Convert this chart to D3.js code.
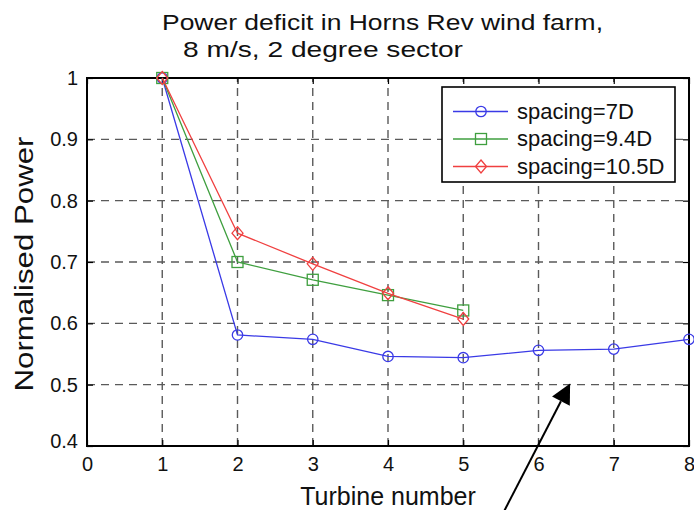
<!DOCTYPE html>
<html>
<head>
<meta charset="utf-8">
<script src="https://cdn.jsdelivr.net/npm/d3@7"></script>
<style>
  body { margin: 0; background: #fff; }
  svg { display: block; font-family: "Liberation Sans", Arial, sans-serif; }
</style>
</head>
<body>
<div id="chart"></div>
<script>
// data
var turbines = [1, 2, 3, 4, 5, 6, 7, 8];
var spacing7D = [1.0, 0.581, 0.574, 0.546, 0.544, 0.556, 0.558, 0.574];
var spacing94D = [1.0, 0.700, 0.671, 0.646, 0.621];
var spacing105D = [1.0, 0.747, 0.697, 0.649, 0.607];
var seriesNames = ["spacing=7D", "spacing=9.4D", "spacing=10.5D"];
var xTicks = [0, 1, 2, 3, 4, 5, 6, 7, 8];
var yTicks = [0.4, 0.5, 0.6, 0.7, 0.8, 0.9, 1];
// arrow annotation in data units: [turbine, power]
var arrowTail = [5.54, 0.293];
var arrowTip = [6.42, 0.502];

var width = 694, height = 510;
var margin = {top: 78, right: 5, bottom: 64, left: 87};

var svg = d3.select('#chart')
  .append('svg')
    .attr('width', width)
    .attr('height', height);

var x = d3.scaleLinear()
  .domain([0, 8])
  .range([margin.left, width - margin.right]);

var y = d3.scaleLinear()
  .domain([0.4, 1])
  .range([height - margin.bottom, margin.top]);

var series = [
  {name: seriesNames[0], values: spacing7D, color: '#3a3ae6', symbol: 'circle'},
  {name: seriesNames[1], values: spacing94D, color: '#3f9f3f', symbol: 'square'},
  {name: seriesNames[2], values: spacing105D, color: '#f04040', symbol: 'diamond'}
];

// Grid
var grid = svg.append('g').attr('class', 'grid');
grid.selectAll('.vgrid')
  .data(xTicks.slice(1, -1))
  .enter().append('line')
    .attr('x1', function(d) { return x(d); })
    .attr('x2', function(d) { return x(d); })
    .attr('y1', y(0.4))
    .attr('y2', y(1));
grid.selectAll('.hgrid')
  .data(yTicks.slice(1, -1))
  .enter().append('line')
    .attr('x1', x(0))
    .attr('x2', x(8))
    .attr('y1', function(d) { return y(d); })
    .attr('y2', function(d) { return y(d); });
grid.selectAll('line')
  .attr('stroke', '#5a5a5a')
  .attr('stroke-width', 1.4)
  .attr('stroke-dasharray', '8,6');

// Axes (ticks point inward, like matlab)
var xAxis = svg.append('g')
  .attr('transform', `translate(0,${y(0.4)})`)
  .call(d3.axisBottom(x).tickValues(xTicks).tickFormat(d3.format('d'))
    .tickSizeInner(-6).tickSizeOuter(0).tickPadding(11));
var xAxisTop = svg.append('g')
  .attr('transform', `translate(0,${y(1)})`)
  .call(d3.axisTop(x).tickValues(xTicks).tickFormat('')
    .tickSizeInner(-6).tickSizeOuter(0));
var yAxis = svg.append('g')
  .attr('transform', `translate(${x(0)},0)`)
  .call(d3.axisLeft(y).tickValues(yTicks).tickFormat(function(d) { return d == 1 ? '1' : d3.format('.1f')(d); })
    .tickSizeInner(-6).tickSizeOuter(0).tickPadding(9));
var yAxisRight = svg.append('g')
  .attr('transform', `translate(${x(8)},0)`)
  .call(d3.axisRight(y).tickValues(yTicks).tickFormat('')
    .tickSizeInner(-6).tickSizeOuter(0));

[xAxis, xAxisTop, yAxis, yAxisRight].forEach(function(a) {
  a.select('.domain').remove();
  a.selectAll('.tick line').attr('stroke', '#000').attr('stroke-width', 1.2);
  a.selectAll('.tick text').attr('fill', '#111').style('font-size', '20px')
    .style('font-family', '"Liberation Sans", Arial, sans-serif');
});
// nudge the 0.4 label up a bit
yAxis.selectAll('.tick text').filter(function(d) { return d == 0.4; }).attr('dy', '0.05em');

// Frame
svg.append('rect')
  .attr('x', x(0))
  .attr('y', y(1))
  .attr('width', x(8) - x(0))
  .attr('height', y(0.4) - y(1))
  .attr('fill', 'none')
  .attr('stroke', '#000')
  .attr('stroke-width', 2);

// Lines and markers
var line = d3.line()
  .x(function(d, i) { return x(turbines[i]); })
  .y(function(d) { return y(d); });

function drawMarker(g, symbol, cx, cy, color) {
  if (symbol == 'circle') {
    g.append('circle').attr('cx', cx).attr('cy', cy).attr('r', 5.2);
  } else if (symbol == 'square') {
    g.append('rect').attr('x', cx - 5.5).attr('y', cy - 5.5).attr('width', 11).attr('height', 11);
  } else {
    g.append('path').attr('d', `M${cx},${cy - 6.5}L${cx + 5.5},${cy}L${cx},${cy + 6.5}L${cx - 5.5},${cy}Z`);
  }
  g.selectAll('*').attr('fill', 'none').attr('stroke', color).attr('stroke-width', 1.3);
}

series.forEach(function(s) {
  svg.append('path')
    .datum(s.values)
    .attr('d', line)
    .attr('fill', 'none')
    .attr('stroke', s.color)
    .attr('stroke-width', 1.3);
  s.values.forEach(function(v, i) {
    var g = svg.append('g');
    drawMarker(g, s.symbol, x(turbines[i]), y(v), s.color);
  });
});

// Legend
var legend = svg.append('g');
legend.append('rect')
  .attr('x', 442).attr('y', 87)
  .attr('width', 233).attr('height', 95)
  .attr('fill', '#fff')
  .attr('stroke', '#000')
  .attr('stroke-width', 1.6);
series.forEach(function(s, i) {
  var ly = 111.5 + i * 27.5;
  legend.append('line')
    .attr('x1', 453).attr('x2', 508)
    .attr('y1', ly).attr('y2', ly)
    .attr('stroke', s.color).attr('stroke-width', 1.3);
  drawMarker(legend.append('g'), s.symbol, 481, ly, s.color);
  legend.append('text')
    .attr('x', 517).attr('y', ly + 7)
    .style('font-size', '22px')
    .attr('fill', '#111')
    .text(s.name);
});

// Title
svg.append('text')
  .attr('x', 162).attr('y', 30)
  .style('font-size', '22px')
  .attr('textLength', 441).attr('lengthAdjust', 'spacingAndGlyphs')
  .attr('fill', '#111')
  .text('Power deficit in Horns Rev wind farm,');
svg.append('text')
  .attr('x', 183).attr('y', 57)
  .style('font-size', '22px')
  .attr('textLength', 280).attr('lengthAdjust', 'spacingAndGlyphs')
  .attr('fill', '#111')
  .text('8 m/s, 2 degree sector');

// Axis labels
svg.append('text')
  .attr('x', (x(0) + x(8)) / 2).attr('y', 505)
  .attr('text-anchor', 'middle')
  .style('font-size', '25px')
  .attr('fill', '#111')
  .text('Turbine number');
svg.append('text')
  .attr('transform', `translate(33,${(y(0.4) + y(1)) / 2 + 2}) rotate(-90)`)
  .attr('text-anchor', 'middle')
  .style('font-size', '25px')
  .attr('textLength', 255).attr('lengthAdjust', 'spacingAndGlyphs')
  .attr('fill', '#111')
  .text('Normalised Power');

// Arrow annotation
var tx = x(arrowTip[0]), ty = y(arrowTip[1]);
var sx = x(arrowTail[0]), sy = y(arrowTail[1]);
var len = Math.hypot(tx - sx, ty - sy);
var ux = (tx - sx) / len, uy = (ty - sy) / len;
var headLen = 20, headHalf = 10;
var bx = tx - ux * headLen, by = ty - uy * headLen;
svg.append('line')
  .attr('x1', sx).attr('y1', sy)
  .attr('x2', bx).attr('y2', by)
  .attr('stroke', '#000').attr('stroke-width', 2);
svg.append('path')
  .attr('d', `M${tx},${ty}L${bx - uy * headHalf},${by + ux * headHalf}L${bx + uy * headHalf},${by - ux * headHalf}Z`)
  .attr('fill', '#000');
</script>
</body>
</html>
